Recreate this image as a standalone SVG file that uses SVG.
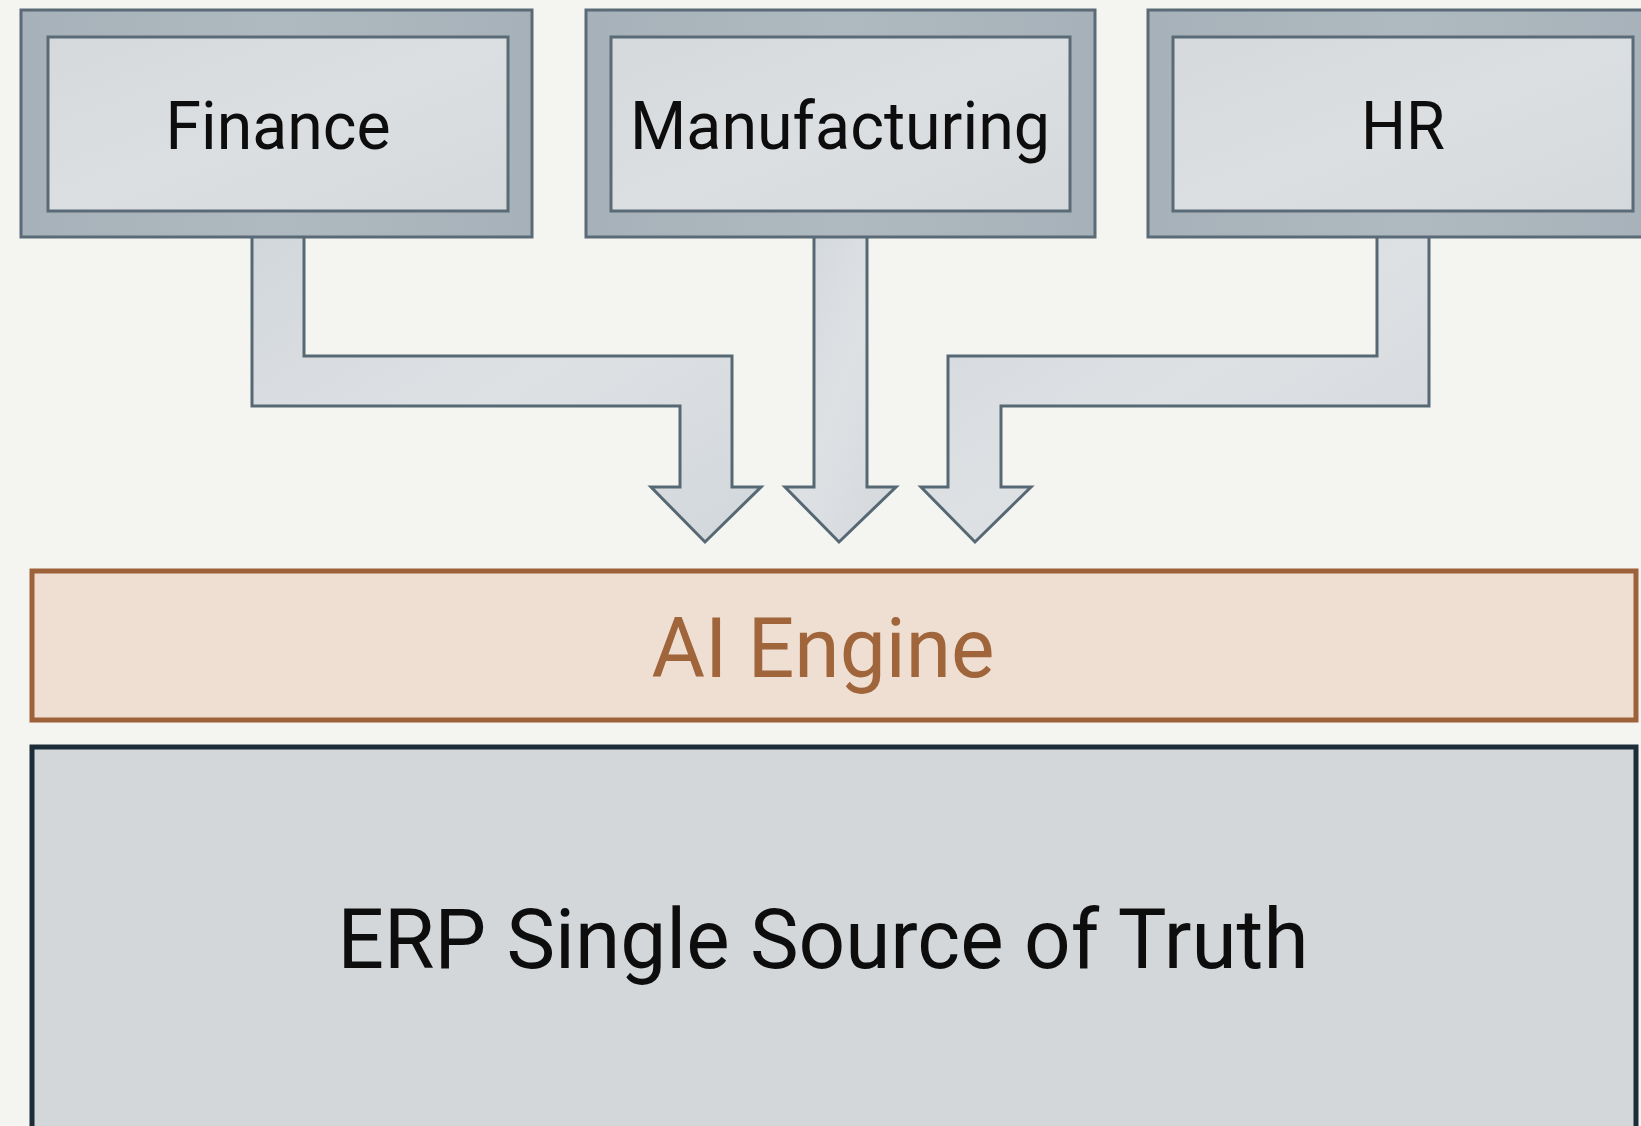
<svg xmlns="http://www.w3.org/2000/svg" width="1641" height="1126" viewBox="0 0 1641 1126">
  <defs>
    <linearGradient id="bandGrad" x1="0" y1="0" x2="1" y2="0">
      <stop offset="0" stop-color="#a6b1b9"/>
      <stop offset="0.5" stop-color="#afb9c0"/>
      <stop offset="1" stop-color="#a6b1b9"/>
    </linearGradient>
    <linearGradient id="faceGrad" x1="0" y1="0" x2="1" y2="1">
      <stop offset="0" stop-color="#d5d9dc"/>
      <stop offset="0.5" stop-color="#dcdfe2"/>
      <stop offset="1" stop-color="#d5d9dc"/>
    </linearGradient>
    <linearGradient id="pipeGrad" x1="0" y1="0" x2="1" y2="1">
      <stop offset="0" stop-color="#d2d7db"/>
      <stop offset="0.5" stop-color="#dee1e4"/>
      <stop offset="1" stop-color="#d2d7db"/>
    </linearGradient>
  </defs>
  <style>
    .band { fill: url(#bandGrad); stroke: #5a6b77; stroke-width: 3; }
    .face { fill: url(#faceGrad); stroke: #5a6b77; stroke-width: 3; }
    .pipe { fill: url(#pipeGrad); stroke: #566874; stroke-width: 3; stroke-linejoin: miter; }
    .label { font-family: Roboto, "Liberation Sans", sans-serif; fill: #0d0d0d; text-anchor: middle; }
    .dept { font-size: 66px; }
    .engine-box { fill: #efdfd2; stroke: #9d623a; stroke-width: 5; }
    .engine-text { font-family: Roboto, "Liberation Sans", sans-serif; font-size: 83px; fill: #a0653a; text-anchor: middle; }
    .erp-box { fill: #d3d7da; stroke: #1c2c38; stroke-width: 5; }
    .erp-text { font-size: 83px; }
  </style>

  <!-- page -->
  <rect x="0" y="0" width="1641" height="1126" fill="#f4f4f1"/>

  <!-- flow arrows from departments into the engine -->
  <g id="connectors">
    <path class="pipe" d="M252,235 V406 H680 V487 H651 L705,542 L761,487 H732 V356 H304 V235"/>
    <path class="pipe" d="M814,235 V487 H785 L839,542 L896,487 H867 V235"/>
    <path class="pipe" d="M1377,235 V356 H948 V487 H921 L975,542 L1031,487 H1001 V406 H1429 V235"/>
  </g>

  <g id="finance">
    <rect class="band" x="21" y="10" width="511" height="227"/>
    <rect class="face" x="48" y="37" width="460" height="174"/>
    <text class="label dept" x="278" y="149" textLength="225" lengthAdjust="spacingAndGlyphs">Finance</text>
  </g>

  <g id="manufacturing">
    <rect class="band" x="586" y="10" width="509" height="227"/>
    <rect class="face" x="611" y="37" width="459" height="174"/>
    <text class="label dept" x="840" y="149" textLength="420" lengthAdjust="spacingAndGlyphs">Manufacturing</text>
  </g>

  <g id="hr">
    <rect class="band" x="1148" y="10" width="520" height="227"/>
    <rect class="face" x="1173" y="37" width="460" height="174"/>
    <text class="label dept" x="1403" y="149" textLength="84" lengthAdjust="spacingAndGlyphs">HR</text>
  </g>

  <g id="ai-engine">
    <rect class="engine-box" x="32" y="571" width="1604" height="149"/>
    <text class="engine-text" x="823" y="677" textLength="343" lengthAdjust="spacingAndGlyphs">AI Engine</text>
  </g>

  <g id="erp">
    <rect class="erp-box" x="32" y="747" width="1604" height="420"/>
    <text class="label erp-text" x="823" y="968" textLength="971" lengthAdjust="spacingAndGlyphs">ERP Single Source of Truth</text>
  </g>
</svg>
